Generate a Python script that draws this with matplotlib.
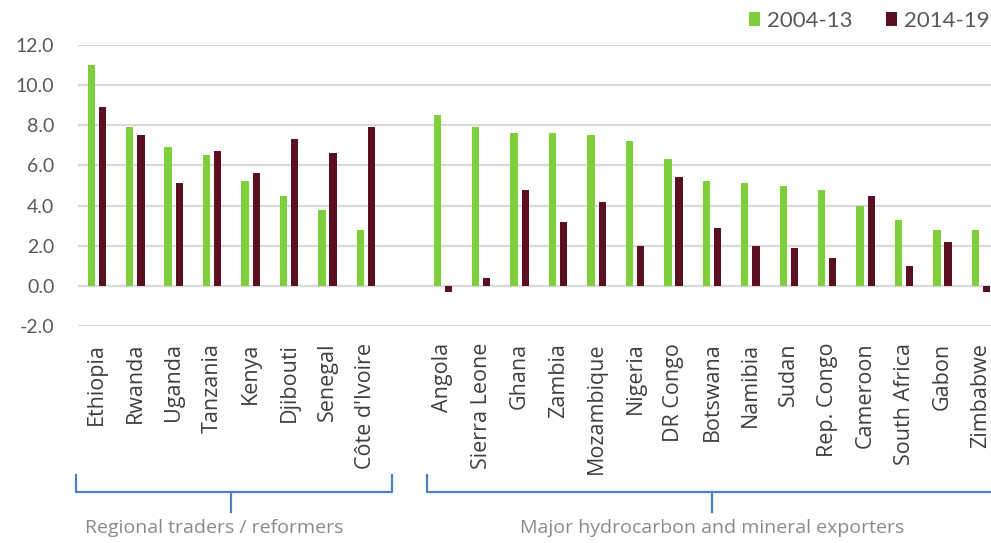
import matplotlib
matplotlib.use("Agg")
import matplotlib.pyplot as plt
from matplotlib.patches import Patch
from matplotlib.lines import Line2D
import matplotlib.transforms as mtransforms
import numpy as np

plt.rcParams['font.family'] = ['Lato', 'DejaVu Sans']

# Real GDP growth, average per period (%)
traders = ["Ethiopia", "Rwanda", "Uganda", "Tanzania", "Kenya", "Djibouti",
           "Senegal", "Côte d'Ivoire"]
exporters = ["Angola", "Sierra Leone", "Ghana", "Zambia", "Mozambique", "Nigeria",
             "DR Congo", "Botswana", "Namibia", "Sudan", "Rep. Congo", "Cameroon",
             "South Africa", "Gabon", "Zimbabwe"]

traders_2004_13 = [11.0, 7.9, 6.9, 6.5, 5.2, 4.5, 3.8, 2.8]
traders_2014_19 = [8.9, 7.5, 5.1, 6.7, 5.6, 7.3, 6.6, 7.9]
exporters_2004_13 = [8.5, 7.9, 7.6, 7.6, 7.5, 7.2, 6.3, 5.2, 5.1, 5.0, 4.8, 4.0, 3.3, 2.8, 2.8]
exporters_2014_19 = [-0.3, 0.4, 4.8, 3.2, 4.2, 2.0, 5.4, 2.9, 2.0, 1.9, 1.4, 4.5, 1.0, 2.2, -0.3]

period_labels = ["2004-13", "2014-19"]
group_labels = ["Regional traders / reformers", "Major hydrocarbon and mineral exporters"]
y_ticks = [-2.0, 0.0, 2.0, 4.0, 6.0, 8.0, 10.0, 12.0]

GREEN = "#7fce3c"
MAROON = "#5a1020"
GRID = "#d9d9d9"
TEXT = "#595959"
BRACKET = "#4f7fc4"

# one empty slot separates the two country groups
n_a, n_b = len(traders), len(exporters)
pos_a = np.arange(n_a)
pos_b = np.arange(n_b) + n_a + 1
positions = np.concatenate([pos_a, pos_b])
names = traders + exporters
vals_old = traders_2004_13 + exporters_2004_13
vals_new = traders_2014_19 + exporters_2014_19

fig = plt.figure(figsize=(9.91, 5.43), dpi=100)
ax = fig.add_axes([78 / 991, 217 / 543, 913 / 991, 281 / 543])

w = 0.19
off = 0.145
ax.bar(positions - off, vals_old, width=w, color=GREEN, zorder=3)
ax.bar(positions + off, vals_new, width=w, color=MAROON, zorder=3)

ax.set_ylim(-2, 12)
ax.set_xlim(-0.49, 23.26)
ax.set_yticks(y_ticks)
ax.set_yticklabels([f"{t:.1f}" for t in y_ticks])
ax.yaxis.grid(True, color=GRID, linewidth=1.6, zorder=0)
ax.set_axisbelow(True)
for s in ax.spines.values():
    s.set_visible(False)
ax.tick_params(axis='y', length=0, pad=17, labelsize=14, labelcolor=TEXT)
ax.set_xticks(positions)
ax.set_xticklabels(names, rotation=90, va='top', ha='center',
                   family=['Open Sans', 'DejaVu Sans'])
ax.tick_params(axis='x', length=0, pad=12, labelsize=15.5, labelcolor="#3f3f3f")

# group brackets below the category labels
trans = mtransforms.blended_transform_factory(ax.transData, fig.transFigure)
y_bar = 1 - 492 / 543
y_top = 1 - 475 / 543
y_tick = 1 - 512 / 543
y_text = 1 - 528 / 543
groups = [(pos_a[0] - 0.55, pos_a[-1] + 0.67, (pos_a[0] + pos_a[-1]) / 2, 3.05),
          (pos_b[0] - 0.42, pos_b[-1] + 0.9, (pos_b[0] + pos_b[-1]) / 2, 16.0)]
for (x0, x1, xm, xt), label in zip(groups, group_labels):
    ax.add_line(Line2D([x0, x0, x1, x1], [y_top, y_bar, y_bar, y_top],
                       transform=trans, color=BRACKET, lw=1.6, clip_on=False))
    ax.add_line(Line2D([xm, xm], [y_bar, y_tick], transform=trans,
                       color=BRACKET, lw=1.6, clip_on=False))
    ax.text(xt, y_text, label, transform=trans, ha='center', va='center',
            fontsize=14, color="#8a8a8a", family=['Open Sans', 'DejaVu Sans'])

handles = [Patch(facecolor=GREEN, edgecolor='none'),
           Patch(facecolor=MAROON, edgecolor='none')]
fig.legend(handles, period_labels, ncol=2, loc='center right',
           bbox_to_anchor=(0.998, 1 - 21 / 543), frameon=False,
           handlelength=0.5, handleheight=0.6, handletextpad=0.3,
           columnspacing=1.5, borderaxespad=0, borderpad=0,
           fontsize=16, labelcolor=TEXT)

fig.savefig("out.png", dpi=100, facecolor="white")
